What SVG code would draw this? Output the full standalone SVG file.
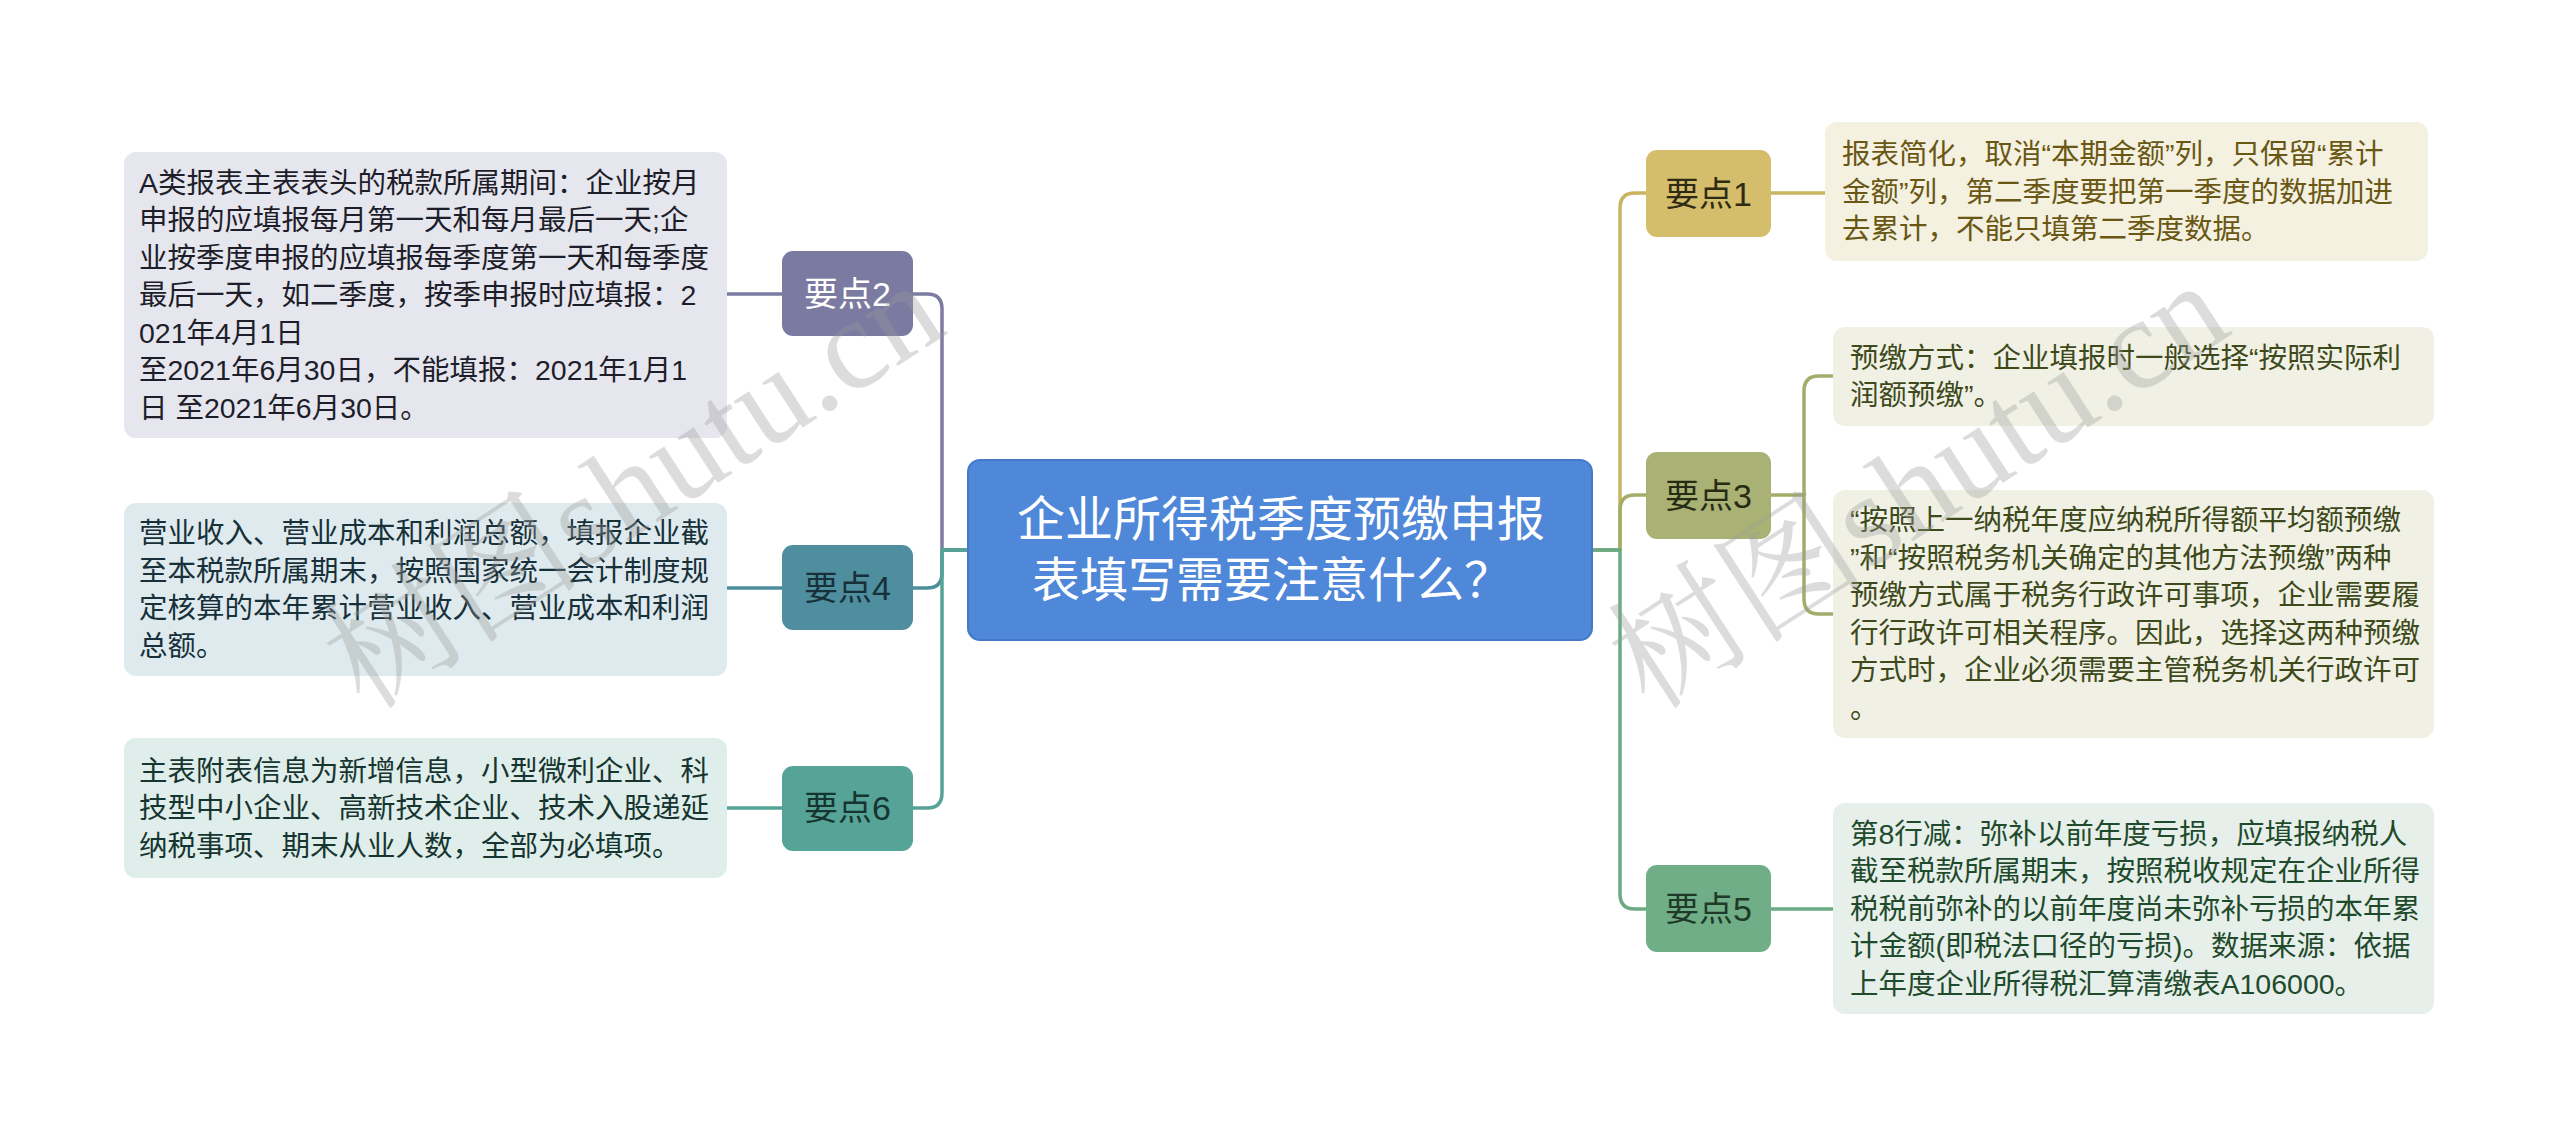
<svg xmlns="http://www.w3.org/2000/svg" width="2560" height="1139" viewBox="0 0 2560 1139">
<style>
.t{font-family:"Liberation Sans","Noto Sans CJK SC",sans-serif;font-size:28.5px}
.b{font-family:"Liberation Sans","Noto Sans CJK SC",sans-serif;font-size:34px;text-anchor:middle}
.c{font-family:"Liberation Sans","Noto Sans CJK SC",sans-serif;font-size:48px;fill:#ffffff;text-anchor:middle}
.ln{fill:none;stroke-width:3.5;stroke-linecap:round;stroke-linejoin:round}
.wm{font-family:"Liberation Serif","Noto Serif CJK SC","Noto Sans CJK SC",serif;font-size:130px;fill:#9a9a9a;fill-opacity:0.35}
</style>
<rect width="2560" height="1139" fill="#ffffff"/>
<g id="connectors">
<path class="ln" stroke="#c9b460" d="M1592,550 H1620 V208 Q1620,193 1635,193 H1646"/>
<path class="ln" stroke="#a3ad69" d="M1592,550 H1620 V510 Q1620,495 1635,495 H1646"/>
<path class="ln" stroke="#6aab85" d="M1592,550 H1620 V894 Q1620,909 1635,909 H1646"/>
<path class="ln" stroke="#7c7ba1" d="M968,550 H942 V309 Q942,294 927,294 H913"/>
<path class="ln" stroke="#4d8e9c" d="M968,550 H942 V573 Q942,588 927,588 H913"/>
<path class="ln" stroke="#55a397" d="M968,550 H942 V793 Q942,808 927,808 H913"/>
<path class="ln" stroke="#7c7ba1" d="M782,294 H727"/>
<path class="ln" stroke="#4d8e9c" d="M782,588 H727"/>
<path class="ln" stroke="#55a397" d="M782,808 H727"/>
<path class="ln" stroke="#c9b460" d="M1771,193 H1825"/>
<path class="ln" stroke="#a3ad69" d="M1771,495 H1804 V391 Q1804,376 1819,376 H1833"/>
<path class="ln" stroke="#a3ad69" d="M1804,495 V599 Q1804,614 1819,614 H1833"/>
<path class="ln" stroke="#6aab85" d="M1771,909 H1833"/>
</g>
<g id="center">
<rect x="968" y="460" width="624" height="180" rx="12" fill="#4f87d9" stroke="#4479c8" stroke-width="2"/>
<text class="c" x="1281" y="536">企业所得税季度预缴申报</text>
<text class="c" x="1272" y="597">表填写需要注意什么？</text>
</g>
<g id="n1">
<rect x="1646" y="150" width="125" height="87" rx="11" fill="#d4bd6b"/>
<text class="b" x="1708.5" y="205.5" fill="#2f2a14">要点1</text>
</g>
<g id="n1leaf">
<rect x="1825" y="122" width="603" height="139" rx="12" fill="#f4f1e0"/>
<text class="t" fill="#6a5714"><tspan x="1842" y="164">报表简化，取消“本期金额”列，只保留“累计</tspan><tspan x="1842" y="201.5">金额”列，第二季度要把第一季度的数据加进</tspan><tspan x="1842" y="239">去累计，不能只填第二季度数据。</tspan></text>
</g>
<g id="n3">
<rect x="1646" y="452" width="125" height="87" rx="11" fill="#a9b274"/>
<text class="b" x="1708.5" y="507.5" fill="#262c14">要点3</text>
</g>
<g id="n3a">
<rect x="1833" y="327" width="601" height="99" rx="12" fill="#f0f1e4"/>
<text class="t" fill="#3e4a1c"><tspan x="1850" y="368">预缴方式：企业填报时一般选择“按照实际利</tspan><tspan x="1850" y="405">润额预缴”。</tspan></text>
</g>
<g id="n3b">
<rect x="1833" y="490" width="601" height="248" rx="12" fill="#f0f1e4"/>
<text class="t" fill="#3e4a1c"><tspan x="1850" y="530">“按照上一纳税年度应纳税所得额平均额预缴</tspan><tspan x="1850" y="567.5">”和“按照税务机关确定的其他方法预缴”两种</tspan><tspan x="1850" y="605">预缴方式属于税务行政许可事项，企业需要履</tspan><tspan x="1850" y="642.5">行行政许可相关程序。因此，选择这两种预缴</tspan><tspan x="1850" y="680">方式时，企业必须需要主管税务机关行政许可</tspan><tspan x="1850" y="717.5">。</tspan></text>
</g>
<g id="n5">
<rect x="1646" y="865" width="125" height="87" rx="11" fill="#6fae87"/>
<text class="b" x="1708.5" y="920.5" fill="#1f3a28">要点5</text>
</g>
<g id="n5leaf">
<rect x="1833" y="803" width="601" height="211" rx="12" fill="#e6efe9"/>
<text class="t" fill="#1f4a2c"><tspan x="1850" y="843.5">第8行减：弥补以前年度亏损，应填报纳税人</tspan><tspan x="1850" y="881">截至税款所属期末，按照税收规定在企业所得</tspan><tspan x="1850" y="918.5">税税前弥补的以前年度尚未弥补亏损的本年累</tspan><tspan x="1850" y="956">计金额(即税法口径的亏损)。数据来源：依据</tspan><tspan x="1850" y="993.5">上年度企业所得税汇算清缴表A106000。</tspan></text>
</g>
<g id="n2">
<rect x="782" y="251" width="131" height="85" rx="11" fill="#7b7aa1"/>
<text class="b" x="847.5" y="305.5" fill="#ffffff">要点2</text>
</g>
<g id="n2leaf">
<rect x="124" y="152" width="603" height="286" rx="12" fill="#e6e6ee"/>
<text class="t" fill="#1e1e2a"><tspan x="139" y="192.5">A类报表主表表头的税款所属期间：企业按月</tspan><tspan x="139" y="230">申报的应填报每月第一天和每月最后一天;企</tspan><tspan x="139" y="267.5">业按季度申报的应填报每季度第一天和每季度</tspan><tspan x="139" y="305">最后一天，如二季度，按季申报时应填报：2</tspan><tspan x="139" y="342.5">021年4月1日</tspan><tspan x="139" y="380">至2021年6月30日，不能填报：2021年1月1</tspan><tspan x="139" y="417.5">日 至2021年6月30日。</tspan></text>
</g>
<g id="n4">
<rect x="782" y="545" width="131" height="85" rx="11" fill="#4f8e9e"/>
<text class="b" x="847.5" y="599.5" fill="#17303a">要点4</text>
</g>
<g id="n4leaf">
<rect x="124" y="503" width="603" height="173" rx="12" fill="#deeaed"/>
<text class="t" fill="#17303a"><tspan x="139" y="543">营业收入、营业成本和利润总额，填报企业截</tspan><tspan x="139" y="581">至本税款所属期末，按照国家统一会计制度规</tspan><tspan x="139" y="618">定核算的本年累计营业收入、营业成本和利润</tspan><tspan x="139" y="656">总额。</tspan></text>
</g>
<g id="n6">
<rect x="782" y="766" width="131" height="85" rx="11" fill="#55a497"/>
<text class="b" x="847.5" y="820" fill="#173530">要点6</text>
</g>
<g id="n6leaf">
<rect x="124" y="738" width="603" height="140" rx="12" fill="#dfeeeb"/>
<text class="t" fill="#173530"><tspan x="139" y="780.5">主表附表信息为新增信息，小型微利企业、科</tspan><tspan x="139" y="818">技型中小企业、高新技术企业、技术入股递延</tspan><tspan x="139" y="855.5">纳税事项、期末从业人数，全部为必填项。</tspan></text>
</g>
<g id="watermarks">
<text class="wm" x="365" y="712" transform="rotate(-33 365 712)">树图shutu.cn</text>
<text class="wm" x="1650" y="712" transform="rotate(-33 1650 712)">树图shutu.cn</text>
</g>
</svg>
